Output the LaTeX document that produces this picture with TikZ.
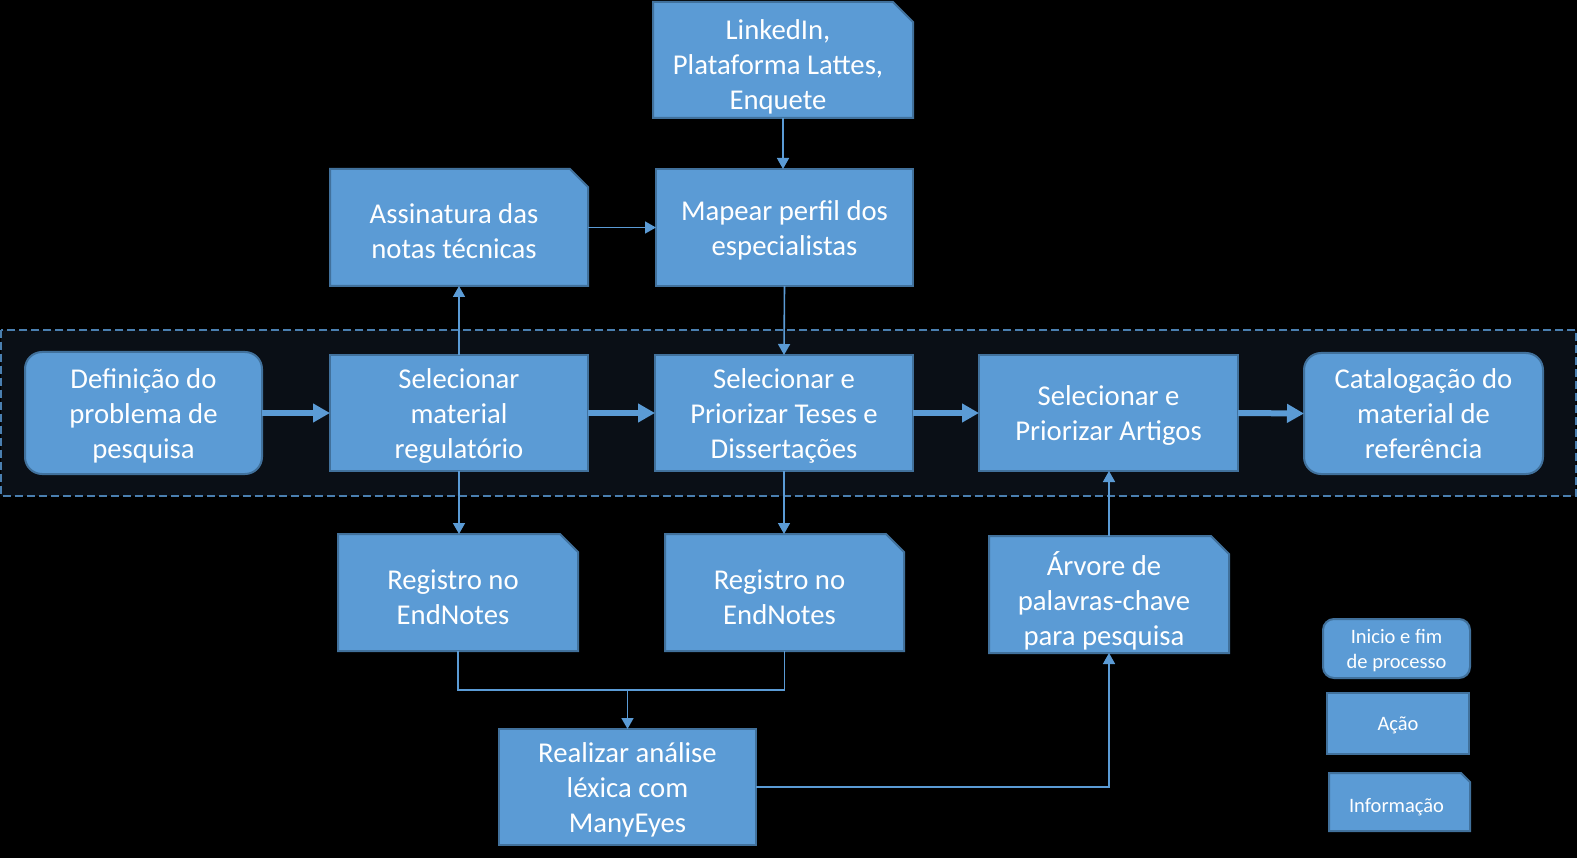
\documentclass[tikz,border=0pt]{standalone}
\usepackage{fontspec}
\setmainfont{Carlito}
\usetikzlibrary{arrows.meta}
\definecolor{boxfill}{HTML}{5B9BD5}
\definecolor{boxline}{HTML}{41719C}
\definecolor{regfill}{HTML}{0A0F16}
\definecolor{regline}{HTML}{4A7FB0}
\newcommand\mytop{\rule{0pt}{27.8pt}}
\newcommand\itop[1]{\rule{0pt}{\dimexpr27.8pt+#1pt\relax}}
\newcommand\mybot{\rule[-7.2pt]{0pt}{0pt}}
\newcommand\ltop{\rule{0pt}{19.9pt}}
\newcommand\lbot{\rule[-5.1pt]{0pt}{0pt}}
% [text options], name, cx, cy, w, h, cut, text
\newcommand\infobox[8][]{%
  \filldraw[fill=boxfill,draw=boxline,line width=2pt]
    ({#3-#5/2},{#4-#6/2}) -- ({#3+#5/2-#7},{#4-#6/2}) -- ({#3+#5/2},{#4-#6/2+#7})
    -- ({#3+#5/2},{#4+#6/2}) -- ({#3-#5/2},{#4+#6/2}) -- cycle;
  \node[minimum width=#5pt,minimum height=#6pt,inner sep=0pt,outer sep=0pt] (#2) at (#3,#4) {};
  \node[txt,xshift=-5pt,#1] at (#2.center) {#8};}
\begin{document}
\begin{tikzpicture}[x=1pt,y=-1pt,
  txt/.style={text=white,align=center,inner sep=0pt,outer sep=0pt,
    font=\fontsize{28.7}{35}\selectfont},
  base/.style={txt,fill=boxfill,draw=boxline,line width=2pt},
  action/.style={base,rectangle},
  startend/.style={base,rounded corners=17pt},
  legfont/.style={font=\fontsize{20.5}{25}\selectfont},
  thin/.style={draw=boxfill,line width=1.6pt,-{Triangle[width=12pt,length=11pt]}},
  thinline/.style={draw=boxfill,line width=1.6pt},
  thick/.style={draw=boxfill,line width=6pt,-{Triangle[width=18pt,length=17pt]}}]
\fill[black] (0,0) rectangle (1577,858);
\useasboundingbox (0,0) rectangle (1577,858);
\draw[fill=regfill,draw=regline,line width=2pt,dash pattern=on 8pt off 4pt] (1,330) rectangle (1576,496);
% main row
\node[startend,minimum width=237pt,minimum height=122pt] (def) at (143.5,413) {\mytop Definição do\\problema de\\pesquisa\mybot};
\node[action,minimum width=258pt,minimum height=116pt] (mat) at (459,413) {\mytop Selecionar\\material\\regulatório\mybot};
\node[action,minimum width=258pt,minimum height=116pt] (tes) at (784,413) {\mytop Selecionar e\\Priorizar Teses e\\Dissertações\mybot};
\node[action,minimum width=259pt,minimum height=116pt] (art) at (1108.5,413) {\mytop Selecionar e\\Priorizar Artigos\mybot};
\node[startend,minimum width=239pt,minimum height=121pt] (cat) at (1423.5,413.5) {\mytop Catalogação do\\material de\\referência\mybot};
% top
\infobox{ass}{459}{227.5}{258}{117}{18}{\itop{6}Assinatura das\\notas técnicas\mybot}
\node[action,minimum width=257pt,minimum height=117pt] (map) at (784.5,227.5) {\mytop Mapear perfil dos\\especialistas\mybot};
\infobox{lnk}{783}{60}{260}{116}{20}{\itop{8}LinkedIn,\\Plataforma Lattes,\\Enquete\mybot}
% bottom
\infobox{reg1}{458}{592.5}{240}{117}{18}{\itop{8}Registro no\\EndNotes\mybot}
\infobox{reg2}{784.5}{592.5}{239}{117}{18}{\itop{8}Registro no\\EndNotes\mybot}
\infobox{arv}{1109}{594.5}{240}{117}{18}{\itop{12}Árvore de\\palavras-chave\\para pesquisa\mybot}
\node[action,minimum width=257pt,minimum height=116pt] (real) at (627.5,787) {\mytop Realizar análise\\léxica com\\ManyEyes\mybot};
% legend
\node[startend,legfont,rounded corners=11pt,minimum width=147pt,minimum height=59pt] (leg1) at (1396.5,648.5) {\ltop Inicio e fim\\de processo\lbot};
\node[action,legfont,minimum width=142pt,minimum height=61pt] (leg2) at (1398,723.5) {\ltop Ação\lbot};
\infobox[legfont,xshift=2pt]{leg3}{1399.5}{802}{141}{58}{9}{\rule{0pt}{25.9pt}Informação\lbot}
% connectors
\draw[thick] (def.east) -- (mat.west);
\draw[thick] (mat.east) -- (tes.west);
\draw[thick] (tes.east) -- (art.west);
\draw[thick] (art.east) -- (cat.west);
\draw[thin] (mat.north) -- (ass.south);
\draw[thin] (ass.east) -- (map.west);
\draw[thin] (lnk.south) -- (lnk.south |- map.north);
\draw[thin] (map.south) -- (tes.north);
\draw[thin] (mat.south) -- (mat.south |- reg1.north);
\draw[thin] (tes.south) -- (tes.south |- reg2.north);
\coordinate (j) at (627.5,690);
\draw[thinline] (reg1.south) |- (j) -| (reg2.south);
\draw[thin] (j) -- (real.north);
\draw[thin] (real.east) -| (arv.south);
\draw[thin] (arv.north) -- (arv.north |- art.south);
\end{tikzpicture}
\end{document}
